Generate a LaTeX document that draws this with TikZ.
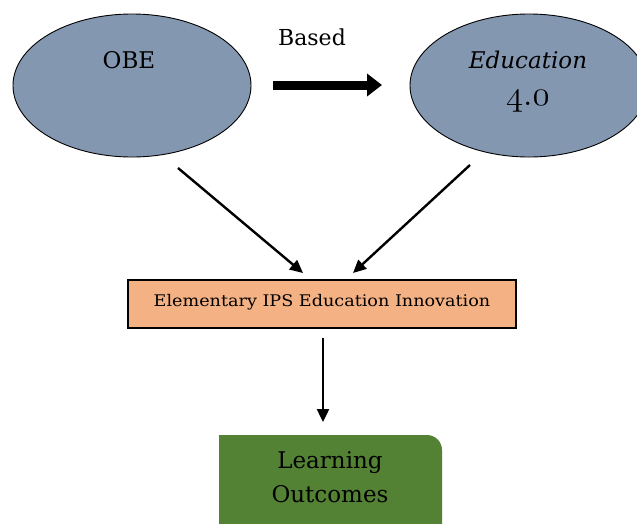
\documentclass[tikz,border=0pt]{standalone}
\usepackage{fontspec}
\setmainfont{DejaVu Serif}
\newfontfamily\widefont{DejaVu Serif}[FakeStretch=1.1]
\usetikzlibrary{arrows.meta,shapes.geometric}
\definecolor{ovalblue}{HTML}{8497B0}
\definecolor{boxpeach}{HTML}{F4B183}
\definecolor{outgreen}{HTML}{548235}
% old-style figures taken from the Latin Modern math italic font
\newcommand{\osnum}[1]{{\fontencoding{OML}\fontfamily{lmm}\fontseries{b}\fontshape{it}\selectfont #1}}
\begin{document}
\begin{tikzpicture}[x=1pt,y=-1pt,
  oval/.style={ellipse,draw=black,line width=0.9,fill=ovalblue,
    minimum width=238,minimum height=143,inner sep=0},
  bigtext/.style={font=\fontsize{23}{28}\selectfont,anchor=base,inner sep=0},
  flowarrow/.style={line width=2.4,-{Triangle[length=13,width=12]}}]
\clip (0,0) rectangle (637,523);
\useasboundingbox (0,0) rectangle (637,523);

% the two source concepts
\node[oval] (obe) at (132,85.5) {};
\node[oval] (edu) at (529,85.5) {};
\node[bigtext] (obetext) at (129,68) {OBE};
\node[bigtext] (edutext) at (528,68) {\itshape Education};
\node[bigtext] (eduver) at (528,105) {\scalebox{1.4}{\osnum{4\char58 0}}};

% "Based" link between them
\node[bigtext,font=\fontsize{22}{26}\selectfont] (based) at (312,45) {Based};
\coordinate (basedfrom) at (273,85);
\coordinate (basedto) at (382,85);
\draw[line width=9,-{Triangle[length=15,width=22]}] (basedfrom) -- (basedto);

% innovation box
\node[draw=black,line width=1.2,fill=boxpeach,minimum width=388,minimum height=48,
  inner sep=0] (innov) at (322,304) {};
\node[font=\widefont\fontsize{16}{18}\selectfont,anchor=base,inner sep=0] (innovtext)
  at (322,306) {Elementary IPS Education Innovation};

\coordinate (obeout) at (178,168);
\coordinate (innovinl) at (303,273);
\coordinate (eduout) at (470,165);
\coordinate (innovinr) at (353,273);
\draw[flowarrow] (obeout) -- (innovinl);
\draw[flowarrow] (eduout) -- (innovinr);

% outcome block, only its top-right corner rounded
\fill[outgreen] (219,540) -- (219,435) -- (427,435)
  .. controls (435.3,435) and (442,441.7) .. (442,450) -- (442,540) -- cycle;
\node[bigtext] (learn) at (330,468) {Learning};
\node[bigtext] (outc) at (330,502) {Outcomes};

\coordinate (innovout) at (323,338);
\coordinate (outcin) at (323,422);
\draw[flowarrow] (innovout) -- (outcin);
\end{tikzpicture}
\end{document}
